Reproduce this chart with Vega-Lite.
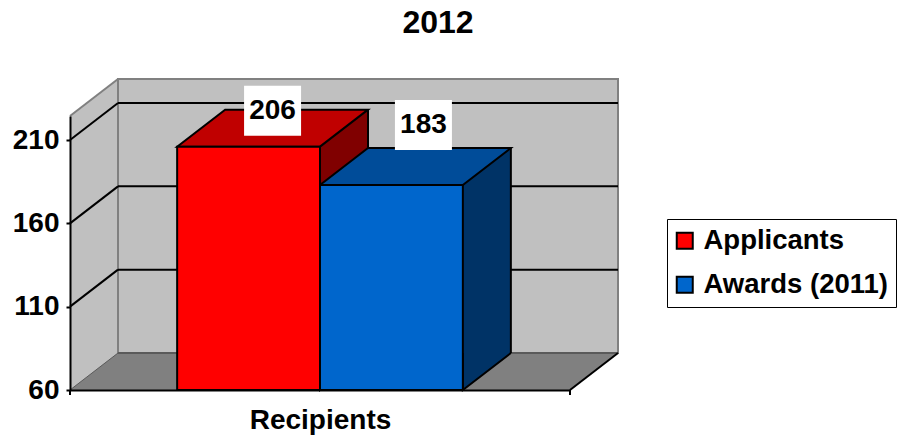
{
  "$schema": "https://vega.github.io/schema/vega-lite/v6.json",
  "width": 500,
  "height": 274,
  "autosize": {"type": "none"},
  "padding": {"left": 70, "top": 116, "right": 334, "bottom": 45},
  "title": {"text": "2012", "fontSize": 32, "fontWeight": "bold", "font": "Liberation Sans", "color": "black", "anchor": "middle", "dx": 118, "offset": 38},
  "config": {"view": {"fill": "#C0C0C0", "stroke": null}, "font": "Liberation Sans"},
  "resolve": {"scale": {"x": "independent"}},
  "layer": [
    {
      "data": {"values": [{}]},
      "layer": [
        {
          "mark": {"type": "point", "shape": "M0,0 L48,-37 L48,0 Z", "size": 4, "filled": true, "fill": "#C0C0C0", "strokeWidth": 0, "opacity": 1},
          "encoding": {
            "x": {"datum": 0, "type": "quantitative", "scale": {"domain": [0, 1], "nice": false, "zero": false}, "axis": null},
            "y": {"datum": 224.4, "type": "quantitative", "scale": {"domain": [60, 224.4], "nice": false, "zero": false}}
          }
        },
        {
          "mark": {"type": "rect", "fill": "#C0C0C0", "stroke": "#808080", "strokeWidth": 2, "xOffset": 48, "x2Offset": 48, "yOffset": -37, "y2Offset": -37},
          "encoding": {
            "x": {"datum": 0, "type": "quantitative", "scale": {"domain": [0, 1], "nice": false, "zero": false}, "axis": null},
            "x2": {"datum": 1},
            "y": {"datum": 60, "type": "quantitative", "scale": {"domain": [60, 224.4], "nice": false, "zero": false}},
            "y2": {"datum": 224.4}
          }
        },
        {
          "data": {"values": [{"tick": 110}, {"tick": 160}, {"tick": 210}]},
          "mark": {"type": "rule", "color": "black", "strokeWidth": 2, "xOffset": 48, "x2Offset": 48, "yOffset": -37},
          "encoding": {
            "x": {"datum": 0, "type": "quantitative", "scale": {"domain": [0, 1], "nice": false, "zero": false}, "axis": null},
            "x2": {"datum": 1},
            "y": {"field": "tick", "type": "quantitative", "scale": {"domain": [60, 224.4], "nice": false, "zero": false}}
          }
        },
        {
          "data": {"values": [{"tick": 110}, {"tick": 160}, {"tick": 210}]},
          "mark": {"type": "rule", "color": "black", "strokeWidth": 2, "x2Offset": 48, "y2Offset": -37},
          "encoding": {
            "x": {"datum": 0, "type": "quantitative", "scale": {"domain": [0, 1], "nice": false, "zero": false}, "axis": null},
            "x2": {"datum": 0},
            "y": {"field": "tick", "type": "quantitative", "scale": {"domain": [60, 224.4], "nice": false, "zero": false}},
            "y2": {"field": "tick"}
          }
        },
        {
          "mark": {"type": "rule", "color": "#808080", "strokeWidth": 2, "x2Offset": 48, "y2Offset": -37},
          "encoding": {
            "x": {"datum": 0, "type": "quantitative", "scale": {"domain": [0, 1], "nice": false, "zero": false}, "axis": null},
            "x2": {"datum": 0},
            "y": {"datum": 224.4, "type": "quantitative", "scale": {"domain": [60, 224.4], "nice": false, "zero": false}},
            "y2": {"datum": 224.4}
          }
        },
        {
          "mark": {"type": "rect", "fill": "#808080", "strokeWidth": 0, "xOffset": 48, "y2Offset": -37},
          "encoding": {
            "x": {"datum": 0, "type": "quantitative", "scale": {"domain": [0, 1], "nice": false, "zero": false}, "axis": null},
            "x2": {"datum": 1},
            "y": {"datum": 60, "type": "quantitative", "scale": {"domain": [60, 224.4], "nice": false, "zero": false}},
            "y2": {"datum": 60}
          }
        },
        {
          "mark": {"type": "point", "shape": "M0,0 L48,-37 L48,0 Z", "size": 4, "filled": true, "fill": "#808080", "strokeWidth": 0, "opacity": 1},
          "encoding": {
            "x": {"datum": 0, "type": "quantitative", "scale": {"domain": [0, 1], "nice": false, "zero": false}, "axis": null},
            "y": {"datum": 60, "type": "quantitative", "scale": {"domain": [60, 224.4], "nice": false, "zero": false}}
          }
        },
        {
          "mark": {"type": "point", "shape": "M0,0 L48,-37 L0,-37 Z", "size": 4, "filled": true, "fill": "#808080", "strokeWidth": 0, "opacity": 1},
          "encoding": {
            "x": {"datum": 1, "type": "quantitative", "scale": {"domain": [0, 1], "nice": false, "zero": false}, "axis": null},
            "y": {"datum": 60, "type": "quantitative", "scale": {"domain": [60, 224.4], "nice": false, "zero": false}}
          }
        },
        {
          "mark": {"type": "rule", "color": "#5a5a5a", "strokeWidth": 2, "xOffset": 48, "x2Offset": 48, "yOffset": -37},
          "encoding": {
            "x": {"datum": 0, "type": "quantitative", "scale": {"domain": [0, 1], "nice": false, "zero": false}, "axis": null},
            "x2": {"datum": 1},
            "y": {"datum": 60, "type": "quantitative", "scale": {"domain": [60, 224.4], "nice": false, "zero": false}}
          }
        },
        {
          "mark": {"type": "rule", "color": "#5a5a5a", "strokeWidth": 1, "x2Offset": 48, "y2Offset": -37},
          "encoding": {
            "x": {"datum": 0, "type": "quantitative", "scale": {"domain": [0, 1], "nice": false, "zero": false}, "axis": null},
            "x2": {"datum": 0},
            "y": {"datum": 60, "type": "quantitative", "scale": {"domain": [60, 224.4], "nice": false, "zero": false}},
            "y2": {"datum": 60}
          }
        },
        {
          "mark": {"type": "rule", "color": "black", "strokeWidth": 2, "x2Offset": 48, "y2Offset": -37},
          "encoding": {
            "x": {"datum": 1, "type": "quantitative", "scale": {"domain": [0, 1], "nice": false, "zero": false}, "axis": null},
            "x2": {"datum": 1},
            "y": {"datum": 60, "type": "quantitative", "scale": {"domain": [60, 224.4], "nice": false, "zero": false}},
            "y2": {"datum": 60}
          }
        },
        {
          "mark": {"type": "rule", "color": "black", "strokeWidth": 2, "y2Offset": 5},
          "encoding": {
            "x": {"datum": 0, "type": "quantitative", "scale": {"domain": [0, 1], "nice": false, "zero": false}, "axis": null},
            "y": {"datum": 60, "type": "quantitative", "scale": {"domain": [60, 224.4], "nice": false, "zero": false}},
            "y2": {"datum": 60}
          }
        },
        {
          "mark": {"type": "rule", "color": "black", "strokeWidth": 2, "y2Offset": 5},
          "encoding": {
            "x": {"datum": 1, "type": "quantitative", "scale": {"domain": [0, 1], "nice": false, "zero": false}, "axis": null},
            "y": {"datum": 60, "type": "quantitative", "scale": {"domain": [60, 224.4], "nice": false, "zero": false}},
            "y2": {"datum": 60}
          }
        }
      ]
    },
    {
      "data": {"values": [
        {"category": "Recipients", "series": "Applicants", "value": 206},
        {"category": "Recipients", "series": "Awards (2011)", "value": 183}
      ]},
      "layer": [
        {
          "transform": [{"filter": "datum.series === 'Applicants'"}],
          "layer": [
            {
              "mark": {"type": "rule", "color": "#800000", "strokeWidth": 48, "strokeCap": "butt", "xOffset": 24, "yOffset": -37, "y2Offset": -37},
              "encoding": {
                "x": {"field": "series", "type": "nominal", "bandPosition": 1, "scale": {"type": "band", "domain": ["Applicants", "Awards (2011)"], "paddingInner": 0, "paddingOuter": 0.75}},
                "y": {"field": "value", "type": "quantitative", "scale": {"domain": [60, 224.4], "nice": false, "zero": false}},
                "y2": {"datum": 60}
              }
            },
            {
              "mark": {"type": "point", "shape": "M0,-37 L0,0 L48,-37", "size": 4, "filled": true, "fill": "#800000", "stroke": "black", "strokeWidth": 2, "opacity": 1},
              "encoding": {
                "x": {"field": "series", "type": "nominal", "bandPosition": 1, "scale": {"type": "band", "domain": ["Applicants", "Awards (2011)"], "paddingInner": 0, "paddingOuter": 0.75}},
                "y": {"datum": 60, "type": "quantitative", "scale": {"domain": [60, 224.4], "nice": false, "zero": false}}
              }
            },
            {
              "mark": {"type": "rule", "color": "black", "strokeWidth": 2, "xOffset": 48, "yOffset": -37, "y2Offset": -37},
              "encoding": {
                "x": {"field": "series", "type": "nominal", "bandPosition": 1, "scale": {"type": "band", "domain": ["Applicants", "Awards (2011)"], "paddingInner": 0, "paddingOuter": 0.75}},
                "y": {"field": "value", "type": "quantitative", "scale": {"domain": [60, 224.4], "nice": false, "zero": false}},
                "y2": {"datum": 60}
              }
            },
            {
              "mark": {"type": "point", "shape": "M0,0 L142.86,0 L190.86,-37 L48,-37 Z", "size": 4, "filled": true, "fill": "#C00000", "stroke": "black", "strokeWidth": 2, "opacity": 1},
              "encoding": {
                "x": {"field": "series", "type": "nominal", "bandPosition": 0, "scale": {"type": "band", "domain": ["Applicants", "Awards (2011)"], "paddingInner": 0, "paddingOuter": 0.75}},
                "y": {"field": "value", "type": "quantitative", "scale": {"domain": [60, 224.4], "nice": false, "zero": false}}
              }
            }
          ]
        },
        {
          "transform": [{"filter": "datum.series === 'Awards (2011)'"}],
          "layer": [
            {
              "mark": {"type": "rule", "color": "#003366", "strokeWidth": 48, "strokeCap": "butt", "xOffset": 24, "yOffset": -37, "y2Offset": -37},
              "encoding": {
                "x": {"field": "series", "type": "nominal", "bandPosition": 1, "scale": {"type": "band", "domain": ["Applicants", "Awards (2011)"], "paddingInner": 0, "paddingOuter": 0.75}},
                "y": {"field": "value", "type": "quantitative", "scale": {"domain": [60, 224.4], "nice": false, "zero": false}},
                "y2": {"datum": 60}
              }
            },
            {
              "mark": {"type": "point", "shape": "M0,-37 L0,0 L48,-37", "size": 4, "filled": true, "fill": "#003366", "stroke": "black", "strokeWidth": 2, "opacity": 1},
              "encoding": {
                "x": {"field": "series", "type": "nominal", "bandPosition": 1, "scale": {"type": "band", "domain": ["Applicants", "Awards (2011)"], "paddingInner": 0, "paddingOuter": 0.75}},
                "y": {"datum": 60, "type": "quantitative", "scale": {"domain": [60, 224.4], "nice": false, "zero": false}}
              }
            },
            {
              "mark": {"type": "rule", "color": "black", "strokeWidth": 2, "xOffset": 48, "yOffset": -37, "y2Offset": -37},
              "encoding": {
                "x": {"field": "series", "type": "nominal", "bandPosition": 1, "scale": {"type": "band", "domain": ["Applicants", "Awards (2011)"], "paddingInner": 0, "paddingOuter": 0.75}},
                "y": {"field": "value", "type": "quantitative", "scale": {"domain": [60, 224.4], "nice": false, "zero": false}},
                "y2": {"datum": 60}
              }
            },
            {
              "mark": {"type": "point", "shape": "M0,0 L142.86,0 L190.86,-37 L48,-37 Z", "size": 4, "filled": true, "fill": "#004C99", "stroke": "black", "strokeWidth": 2, "opacity": 1},
              "encoding": {
                "x": {"field": "series", "type": "nominal", "bandPosition": 0, "scale": {"type": "band", "domain": ["Applicants", "Awards (2011)"], "paddingInner": 0, "paddingOuter": 0.75}},
                "y": {"field": "value", "type": "quantitative", "scale": {"domain": [60, 224.4], "nice": false, "zero": false}}
              }
            }
          ]
        },
        {
          "mark": {"type": "bar", "stroke": "black", "strokeWidth": 2, "opacity": 1},
          "encoding": {
            "x": {"field": "series", "type": "nominal", "scale": {"type": "band", "domain": ["Applicants", "Awards (2011)"], "paddingInner": 0, "paddingOuter": 0.75},
              "axis": {"title": "Recipients", "labels": false, "ticks": false, "domainColor": "black", "domainWidth": 2, "titleFontSize": 28, "titleFontWeight": "bold", "titleColor": "black", "titleFont": "Liberation Sans", "titlePadding": 16, "zindex": 1}},
            "y": {"field": "value", "type": "quantitative", "scale": {"domain": [60, 224.4], "nice": false, "zero": false},
              "axis": {"values": [60, 110, 160, 210], "title": null, "grid": false, "domainColor": "black", "domainWidth": 2, "tickColor": "black", "tickWidth": 2, "tickSize": 4, "labelFontSize": 28, "labelFontWeight": "bold", "labelColor": "black", "labelFont": "Liberation Sans", "labelPadding": 7, "zindex": 1}},
            "y2": {"datum": 60},
            "color": {"field": "series", "type": "nominal", "scale": {"domain": ["Applicants", "Awards (2011)"], "range": ["#FF0000", "#0066CC"]},
              "legend": {"orient": "none", "legendX": 597, "legendY": 103, "title": null, "symbolType": "square", "symbolSize": 256, "symbolStrokeColor": "black", "symbolStrokeWidth": 2, "symbolOpacity": 1, "symbolOffset": -4, "labelFontSize": 27.5, "labelFontWeight": "bold", "labelColor": "black", "labelFont": "Liberation Sans", "labelOffset": 5, "labelLimit": 400, "strokeColor": "black", "fillColor": "white", "padding": 8, "rowPadding": 15}}
          }
        },
        {
          "transform": [{"filter": "datum.series === 'Applicants'"}],
          "layer": [
            {
              "mark": {"type": "point", "shape": "M-28.5,-25 L28.5,-25 L28.5,25 L-28.5,25 Z", "size": 4, "filled": true, "fill": "white", "strokeWidth": 0, "opacity": 1, "xOffset": 24, "yOffset": -36},
              "encoding": {
                "x": {"field": "series", "type": "nominal", "bandPosition": 0.5, "scale": {"type": "band", "domain": ["Applicants", "Awards (2011)"], "paddingInner": 0, "paddingOuter": 0.75}},
                "y": {"field": "value", "type": "quantitative", "scale": {"domain": [60, 224.4], "nice": false, "zero": false}}
              }
            },
            {
              "mark": {"type": "text", "fontSize": 28, "fontWeight": "bold", "font": "Liberation Sans", "color": "black", "align": "center", "baseline": "middle", "xOffset": 24, "yOffset": -36},
              "encoding": {
                "x": {"field": "series", "type": "nominal", "bandPosition": 0.5, "scale": {"type": "band", "domain": ["Applicants", "Awards (2011)"], "paddingInner": 0, "paddingOuter": 0.75}},
                "y": {"field": "value", "type": "quantitative", "scale": {"domain": [60, 224.4], "nice": false, "zero": false}},
                "text": {"field": "value", "type": "quantitative"}
              }
            }
          ]
        },
        {
          "transform": [{"filter": "datum.series === 'Awards (2011)'"}],
          "layer": [
            {
              "mark": {"type": "point", "shape": "M-28.5,-25 L28.5,-25 L28.5,25 L-28.5,25 Z", "size": 4, "filled": true, "fill": "white", "strokeWidth": 0, "opacity": 1, "xOffset": 32, "yOffset": -60},
              "encoding": {
                "x": {"field": "series", "type": "nominal", "bandPosition": 0.5, "scale": {"type": "band", "domain": ["Applicants", "Awards (2011)"], "paddingInner": 0, "paddingOuter": 0.75}},
                "y": {"field": "value", "type": "quantitative", "scale": {"domain": [60, 224.4], "nice": false, "zero": false}}
              }
            },
            {
              "mark": {"type": "text", "fontSize": 28, "fontWeight": "bold", "font": "Liberation Sans", "color": "black", "align": "center", "baseline": "middle", "xOffset": 32, "yOffset": -60},
              "encoding": {
                "x": {"field": "series", "type": "nominal", "bandPosition": 0.5, "scale": {"type": "band", "domain": ["Applicants", "Awards (2011)"], "paddingInner": 0, "paddingOuter": 0.75}},
                "y": {"field": "value", "type": "quantitative", "scale": {"domain": [60, 224.4], "nice": false, "zero": false}},
                "text": {"field": "value", "type": "quantitative"}
              }
            }
          ]
        }
      ]
    }
  ]
}
